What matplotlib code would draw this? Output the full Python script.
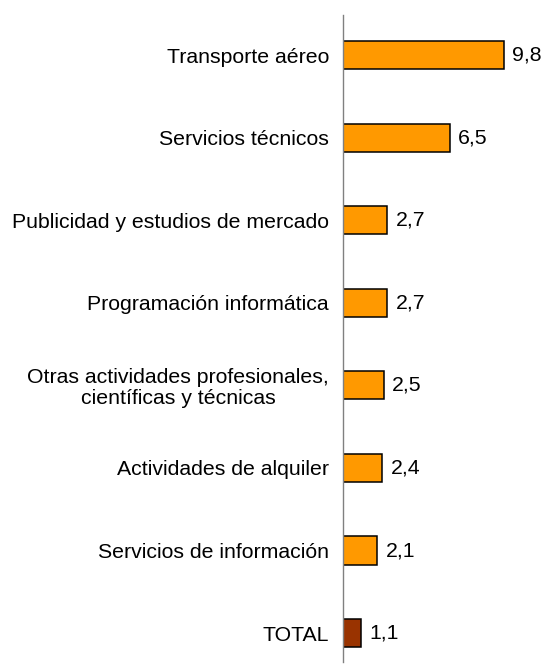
import matplotlib
matplotlib.use("Agg")
import matplotlib.pyplot as plt

categories = ["Transporte aéreo", "Servicios técnicos", "Publicidad y estudios de mercado",
              "Programación informática", "Otras actividades profesionales,\ncientíficas y técnicas",
              "Actividades de alquiler", "Servicios de información", "TOTAL"]
values = [9.8, 6.5, 2.7, 2.7, 2.5, 2.4, 2.1, 1.1]
labels = ["9,8", "6,5", "2,7", "2,7", "2,5", "2,4", "2,1", "1,1"]
colors = ["#FF9900"] * 7 + ["#993300"]

plt.rcParams['font.family'] = ['Liberation Sans', 'DejaVu Sans']
FS = 15.3

fig = plt.figure(figsize=(5.44, 6.66), dpi=100)
ax = fig.add_axes([343/544, 4/666, 197/544, (662-15)/666])
pos = list(range(len(categories)))
ax.barh(pos, values, height=0.34, color=colors, edgecolor="black", linewidth=1.1)
for p, v, l in zip(pos, values, labels):
    ax.text(v + 0.5, p, l, va="center", ha="left", fontsize=FS)
ax.set_yticks(pos)
ax.set_yticklabels(categories, fontsize=FS, multialignment="center", linespacing=1.1)
ax.tick_params(axis="y", length=0, pad=10)
ax.set_xticks([])
ax.set_xlim(0, 12.0)
ax.set_ylim(7.35, -0.485)
for s in ["top", "right", "bottom"]:
    ax.spines[s].set_visible(False)
ax.spines["left"].set_color("#808080")
ax.spines["left"].set_linewidth(1.0)
fig.savefig("out.png", dpi=100)
